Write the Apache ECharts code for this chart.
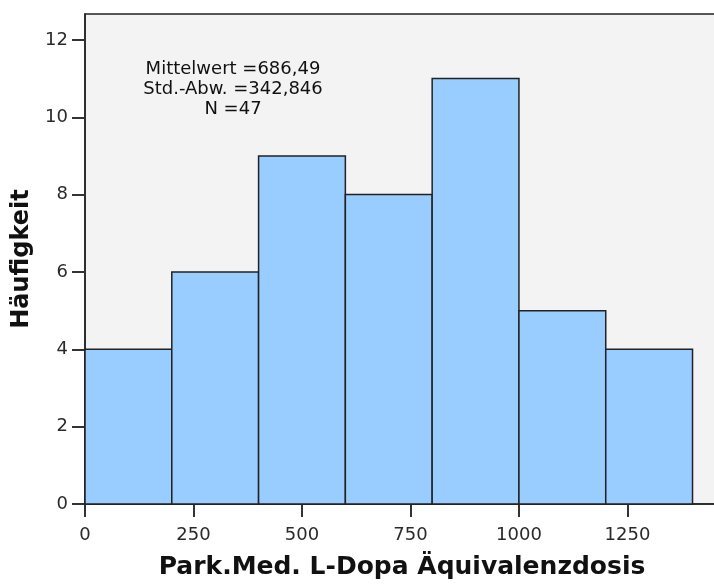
<!DOCTYPE html>
<html>
<head>
<meta charset="utf-8">
<script src="https://cdn.jsdelivr.net/npm/echarts@6/dist/echarts.min.js"></script>
<style>html,body{margin:0;padding:0;background:#fff;}#c{width:714px;height:586px;}</style>
</head>
<body>
<div id="c"></div>
<script>
var binStarts = [0, 200, 400, 600, 800, 1000, 1200];
var binWidth = 200;
var counts = [4, 6, 9, 8, 11, 5, 4];
var xTicks = [0, 250, 500, 750, 1000, 1250];
var yTicks = [0, 2, 4, 6, 8, 10, 12];
var statsLines = ['Mittelwert =686,49', 'Std.-Abw. =342,846', 'N =47'];

var data = binStarts.map(function (s, i) { return [s, s + binWidth, counts[i]]; });
var font = '"DejaVu Sans", Verdana, sans-serif';

var chart = echarts.init(document.getElementById('c'));
chart.setOption({
  animation: false,
  backgroundColor: '#ffffff',
  grid: {
    left: 85, top: 14, height: 490, width: 634,
    outerBoundsMode: 'none', containLabel: false,
    show: true, backgroundColor: '#f3f3f3', borderColor: '#222', borderWidth: 1.5
  },
  xAxis: {
    type: 'value', min: 0, max: 1461,
    name: 'Park.Med. L-Dopa Äquivalenzdosis', nameLocation: 'middle', nameGap: 51,
    nameTextStyle: { fontFamily: font, fontSize: 25, fontWeight: 'bold', color: '#111' },
    splitLine: { show: false },
    axisLine: { show: true, onZero: false, lineStyle: { color: '#222', width: 1.5 } },
    axisTick: { show: true, length: 13, customValues: xTicks, lineStyle: { color: '#333', width: 2 } },
    axisLabel: { customValues: xTicks, margin: 22, fontFamily: font, fontSize: 18, color: '#2a2a2a',
      formatter: function (v) { return String(v); } }
  },
  yAxis: {
    type: 'value', min: 0, max: 12.67,
    name: 'Häufigkeit', nameLocation: 'middle', nameGap: 45, nameRotate: 90,
    nameTextStyle: { fontFamily: font, fontSize: 24, fontWeight: 'bold', color: '#111' },
    splitLine: { show: false },
    axisLine: { show: true, lineStyle: { color: '#222', width: 1.5 } },
    axisTick: { show: true, length: 13, customValues: yTicks, lineStyle: { color: '#333', width: 2 } },
    axisLabel: { customValues: yTicks, margin: 17, fontFamily: font, fontSize: 18, color: '#2a2a2a' }
  },
  series: [{
    type: 'custom',
    data: data,
    encode: { x: [0, 1], y: 2 },
    renderItem: function (params, api) {
      var p0 = api.coord([api.value(0), 0]);
      var p1 = api.coord([api.value(1), api.value(2)]);
      return {
        type: 'rect',
        shape: { x: p0[0], y: p1[1], width: p1[0] - p0[0], height: p0[1] - p1[1] },
        style: { fill: '#99ccff', stroke: '#222', lineWidth: 1.5 }
      };
    }
  }],
  graphic: [{
    type: 'text', x: 233, y: 59, z: 100,
    style: {
      text: statsLines.join('\n'), textAlign: 'center', textVerticalAlign: 'top',
      font: '18px ' + font, fill: '#111', lineHeight: 20
    }
  }]
});
</script>
</body>
</html>
